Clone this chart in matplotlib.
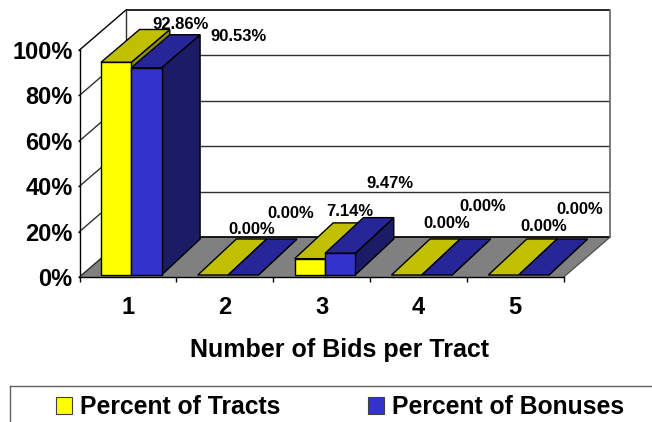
import matplotlib
matplotlib.use("Agg")
import matplotlib.pyplot as plt
from matplotlib.patches import Polygon, Patch
from matplotlib.lines import Line2D

categories = ["1", "2", "3", "4", "5"]
percent_of_tracts = [92.86, 0.00, 7.14, 0.00, 0.00]
percent_of_bonuses = [90.53, 0.00, 9.47, 0.00, 0.00]
y_ticks = [0, 20, 40, 60, 80, 100]
x_label = "Number of Bids per Tract"
legend_labels = ["Percent of Tracts", "Percent of Bonuses"]

# label offsets from the front-centre of each bar top (pixels)
tract_offsets = [(64, 37.5), (39, 45.5), (39.5, 47), (40.5, 51.5), (40, 48.5)]
bonus_offsets = [(92.5, 31.5), (47.5, 61.5), (50, 69.5), (46, 68.5), (46, 65.5)]

W, H = 652, 422
plt.rcParams["font.family"] = ["Liberation Sans", "DejaVu Sans"]
plt.rcParams["font.weight"] = "bold"
fig = plt.figure(figsize=(W / 100, H / 100), dpi=100)
L, R, B0, T0 = 79.5, 563.7, 277.0, 50.0
ax = fig.add_axes([L / W, 1 - B0 / H, (R - L) / W, (B0 - T0) / H])
ax.set_xlim(0.5, 5.5)
ax.set_ylim(0, 100)
ax.patch.set_visible(False)

PX = (R - L) / 5      # pixels per category
PY = (B0 - T0) / 100  # pixels per percent
WALL_DX = 46.5 / PX
WALL_DY = 40.0 / PY
BAR_DX = 38.5 / PX
BAR_DY = 36.0 / PY
BASE = 2.0 / PY
HSCALE = 1.009
BACK_SCALE = 0.985
BAR_W = 30.3 / PX
BAR_START = 21.5 / PX

def poly(pts, fc, ec="black", lw=1.0, z=2):
    ax.add_patch(Polygon(pts, closed=True, facecolor=fc, edgecolor=ec, linewidth=lw,
                         clip_on=False, zorder=z, joinstyle="miter"))

# floor
poly([(0.5, 0), (5.5, 0), (5.5 + WALL_DX, WALL_DY), (0.5 + WALL_DX, WALL_DY)], "#808080", "#808080", 0.8, 1)

# back wall and side wall grid
for t in y_ticks:
    c = "#303030"
    ax.plot([0.5 + WALL_DX, 5.5 + WALL_DX], [t + WALL_DY] * 2, color="black" if t in (0, 100) else c,
            lw=1.2 if t in (0, 100) else 1.0, clip_on=False, zorder=1.5, solid_capstyle="butt")
    ax.plot([0.5, 0.5 + WALL_DX], [t, t + WALL_DY], color="black" if t == 100 else c, lw=1.0, clip_on=False, zorder=1.5)
ax.plot([0.5 + WALL_DX] * 2, [WALL_DY, 100 + WALL_DY], color="#303030", lw=1.0, clip_on=False, zorder=1.5)
ax.plot([5.5 + WALL_DX] * 2, [WALL_DY, 100 + WALL_DY], color="#707070", lw=1.3, clip_on=False, zorder=1.5)
ax.plot([5.5, 5.5 + WALL_DX], [0, WALL_DY], color="#505050", lw=0.8, clip_on=False, zorder=1.6)

def bar3d(x0, value, front, top, side, z):
    x1 = x0 + BAR_W
    h = value * HSCALE
    yb, yt = BASE, BASE + h
    ybb = BASE + BAR_DY
    ytb = ybb + h * BACK_SCALE
    poly([(x1, yb), (x1 + BAR_DX, ybb), (x1 + BAR_DX, ytb), (x1, yt)], side, z=z)
    poly([(x0, yt), (x1, yt), (x1 + BAR_DX, ytb), (x0 + BAR_DX, ytb)], top, z=z + 0.1)
    if value > 0:
        poly([(x0, yb), (x1, yb), (x1, yt), (x0, yt)], front, z=z + 0.2)
    return x0 + BAR_W / 2, yt

series = [
    (percent_of_tracts, "#FFFF00", "#C0C000", "#8F8F00", 0, tract_offsets),
    (percent_of_bonuses, "#3333CC", "#262699", "#1C1C66", 1, bonus_offsets),
]
for i in range(len(categories)):
    for k, (vals, front, top, side, j, offs) in enumerate(series):
        x0 = i + 0.5 + BAR_START + j * BAR_W
        cx, yt = bar3d(x0, vals[i], front, top, side, 3 + k)
        ax.annotate(f"{vals[i]:.2f}%", xy=(cx, yt), xytext=offs[i], textcoords="offset pixels",
                    ha="center", va="center", fontsize=12, fontweight="bold", zorder=8,
                    annotation_clip=False)

# axes
for s in ("top", "right"):
    ax.spines[s].set_visible(False)
ax.spines["left"].set_linewidth(1.0)
ax.spines["bottom"].set_linewidth(1.0)
ax.spines["left"].set_zorder(6)
ax.spines["bottom"].set_zorder(6)
ax.set_yticks(y_ticks)
ax.set_yticklabels([f"{t}%" for t in y_ticks], fontsize=17, fontweight="bold")
ax.tick_params(axis="y", length=1.6, width=1.0, pad=3.5)
ax.set_xticks([0.5, 1.5, 2.5, 3.5, 4.5, 5.5])
ax.set_xticklabels([])
ax.set_xticks([1, 2, 3, 4, 5], minor=True)
ax.set_xticklabels(categories, minor=True, fontsize=17, fontweight="bold")
ax.tick_params(axis="x", which="major", length=3.8, width=1.0)
ax.tick_params(axis="x", which="minor", length=0, pad=14)
ax.set_xlabel(x_label, fontsize=18, fontweight="bold", x=(340 - L) / (R - L), labelpad=13.5)

# legend frame runs off the figure, as in the reference
fig.add_artist(Line2D([10 / W, 1], [1 - 386 / H] * 2, color="#606060", lw=1.0))
fig.add_artist(Line2D([10 / W, 10 / W], [1 - 386 / H, 0], color="#606060", lw=1.0))
handles = [Patch(facecolor="#FFFF00", edgecolor="#404040", linewidth=0.8),
           Patch(facecolor="#3333CC", edgecolor="#404040", linewidth=0.8)]
fig.legend(handles, legend_labels, loc="center left", bbox_to_anchor=(56 / W, 1 - 407 / H),
           ncol=2, frameon=False, borderpad=0, borderaxespad=0,
           handlelength=0.65, handleheight=0.65, handletextpad=0.32, columnspacing=3.56,
           prop={"weight": "bold", "size": 17.8})

fig.savefig("out.png", dpi=100, facecolor="white")
